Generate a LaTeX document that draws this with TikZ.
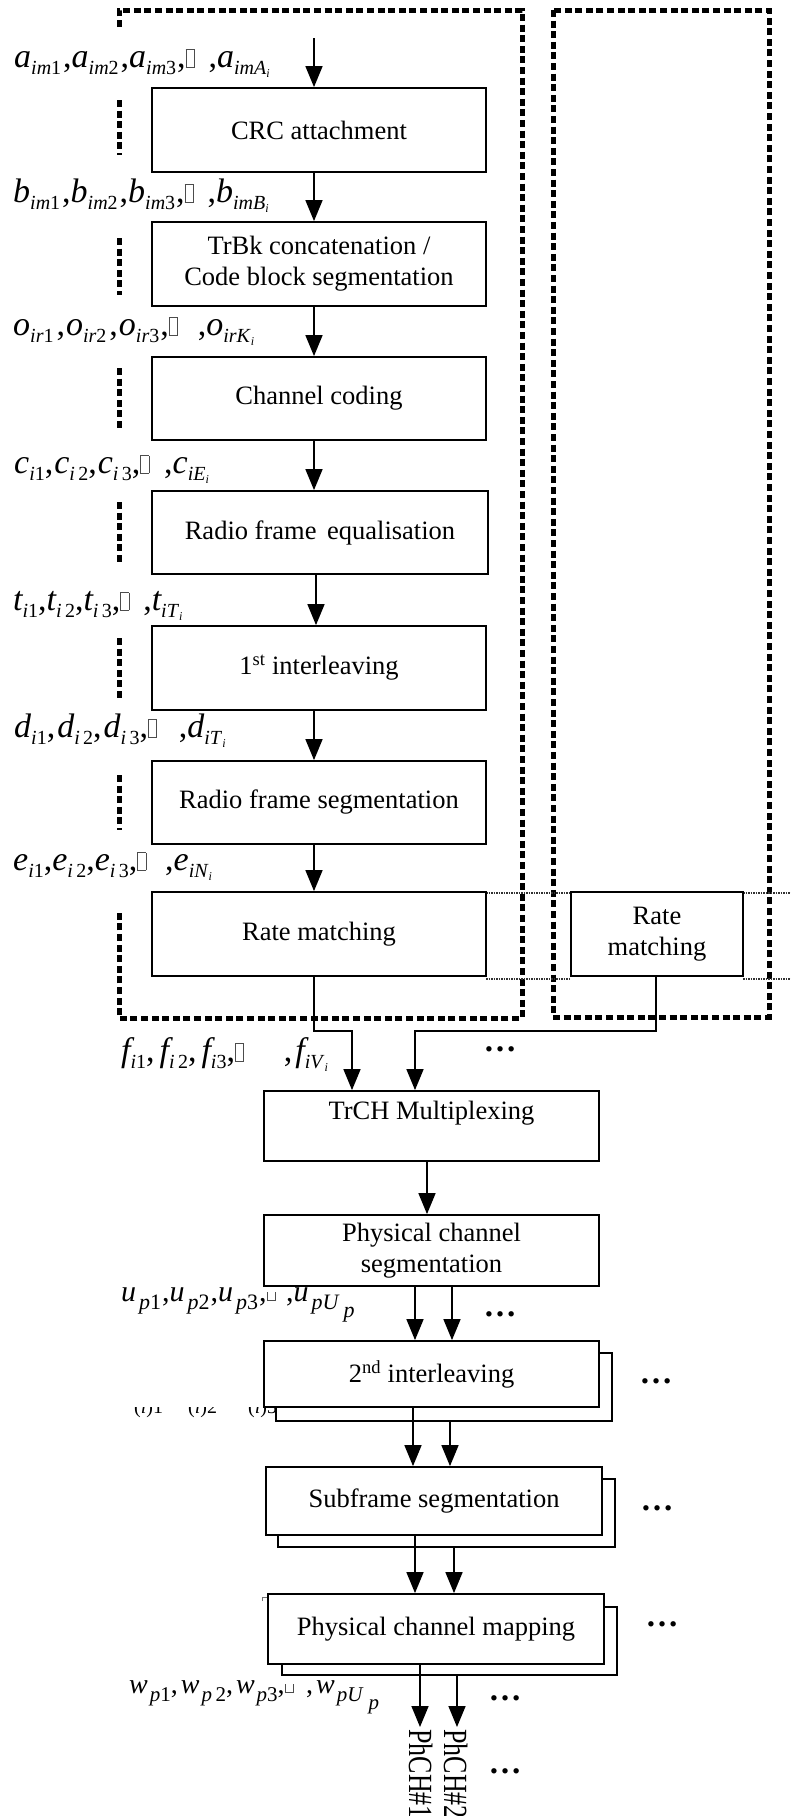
\documentclass[tikz,border=0pt]{standalone}
\usepackage{fontspec}
\setmainfont{Liberation Serif}
\usetikzlibrary{arrows.meta}
\newcommand\boxfont{\fontsize{26.5}{31}\selectfont}
\newcommand\labfont{\fontsize{34}{38}\selectfont}
\newcommand\labfontb{\fontsize{30}{34}\selectfont}
\newcommand\labfontc{\fontsize{28}{32}\selectfont}
\newcommand\V[2]{{\itshape #1}\raisebox{-7pt}{\fontsize{20}{20}\selectfont #2}}
\newcommand\W[2]{{\itshape #1}\kern3pt\raisebox{-8pt}{\fontsize{22}{22}\selectfont #2}}
\newcommand\Wb[2]{{\itshape #1}\kern2pt\raisebox{-8pt}{\fontsize{21}{21}\selectfont #2}}
\newcommand\I[1]{\textit{#1}}
\newcommand\subsub[1]{\raisebox{-3pt}{\fontsize{12}{12}\selectfont\itshape #1}}
\newcommand\nbx{{\color{black!70}\setlength\fboxsep{0pt}\setlength\fboxrule{0.7pt}\fbox{\rule{0pt}{17pt}\hspace{7.5pt}}}}
\newcommand\nbxo{{\color{black!70}\rule{0.7pt}{9pt}\rule{8pt}{0.7pt}\rule{0.7pt}{9pt}}}
\begin{document}
\begin{tikzpicture}[x=1pt,y=-1pt,
  box/.style={draw, line width=1.8pt, fill=white, inner sep=0pt, align=center, font=\boxfont},
  arr/.style={line width=1.6pt, -{Triangle[length=21pt,width=17pt]}},
  bigdot/.style={line width=5pt, dash pattern=on 7pt off 3.6pt},
  thindot/.style={line width=2pt, dash pattern=on 1.5pt off 1pt, black!80},
  lab/.style={anchor=base west, inner sep=0pt, font=\labfont},
  labb/.style={anchor=base west, inner sep=0pt, font=\labfontb},
  labc/.style={anchor=base west, inner sep=0pt, font=\labfontc},
  dts/.style={anchor=base, inner sep=0pt, font=\fontsize{33}{33}\selectfont\bfseries},
  phch/.style={anchor=base west, inner sep=0pt, rotate=-90, font=\fontsize{26}{26}\selectfont},
]
\useasboundingbox (0,0) rectangle (791,1816);

% thick dotted frames
\draw[bigdot] (119,27) -- (119,10) -- (522,10) -- (522,1018) -- (119,1018) -- (119,912);
\foreach \a/\b in {100/155, 238/295, 368/428, 502/565, 638/700, 775/830}
  \draw[bigdot] (119,\a) -- (119,\b);
\draw[bigdot] (553,10) rectangle (769,1017);

% thin dotted lines
\draw[thindot] (486,893) -- (571,893);
\draw[thindot] (743,893) -- (791,893);
\draw[thindot] (486,979) -- (571,979);
\draw[thindot] (743,979) -- (791,979);

% hidden label fragments
\begin{scope}
\clip (130,1407.5) rectangle (276,1418);
\node[anchor=base west, inner sep=0pt, font=\fontsize{20}{20}\selectfont] (fr1) at (134,1413) {(\I{i})1};
\node[anchor=base west, inner sep=0pt, font=\fontsize{20}{20}\selectfont] (fr2) at (188,1413) {(\I{i})2};
\node[anchor=base west, inner sep=0pt, font=\fontsize{20}{20}\selectfont] (fr3) at (248,1413) {(\I{i})3};
\end{scope}
\draw[black!55, line width=0.7pt] (262,1601) -- (262,1597) -- (271,1597) -- (271,1601);

% blocks of the transport channel chain
\node[box, minimum width=334pt, minimum height=84pt] (crc) at (319,130) {CRC attachment};
\node[box, minimum width=334pt, minimum height=84pt] (trbk) at (319,264) {TrBk concatenation /\\Code block segmentation};
\node[box, minimum width=334pt, minimum height=83pt] (cc) at (319,398.5) {Channel coding};
\node[box, minimum width=336pt, minimum height=83pt] (rfe) at (320,532.5) {Radio frame\hspace{4pt} equalisation};
\node[box, minimum width=334pt, minimum height=84pt] (fi) at (319,668) {1\textsuperscript{st} interleaving};
\node[box, minimum width=334pt, minimum height=83pt] (rfs) at (319,802.5) {Radio frame segmentation};
\node[box, minimum width=334pt, minimum height=84pt] (rm) at (319,934) {Rate matching};
\node[box, minimum width=172pt, minimum height=84pt] (rm2) at (657,934) {Rate\\matching};

\node[box, minimum width=335pt, minimum height=70pt] (mux) at (431.5,1126) {};
\node[inner sep=0pt, font=\boxfont] (muxt) at ([yshift=13pt]mux.center) {TrCH Multiplexing};
\node[box, minimum width=335pt, minimum height=71pt] (pcs) at (431.5,1250.5) {Physical channel\\segmentation};

\node[box, minimum width=336pt, minimum height=68pt] (int2s) at (444,1387) {};
\node[box, minimum width=335pt, minimum height=66pt] (int2) at (431.5,1374) {2\textsuperscript{nd} interleaving};
\node[box, minimum width=337pt, minimum height=68pt] (sss) at (446.5,1513) {};
\node[box, minimum width=336pt, minimum height=68pt] (ss) at (434,1501) {Subframe segmentation};
\node[box, minimum width=335pt, minimum height=68pt] (pcms) at (449.5,1641) {};
\node[box, minimum width=336pt, minimum height=70pt] (pcm) at (436,1629) {Physical channel mapping};

% arrows
\coordinate (in) at (314,38);
\draw[arr] (in) -- ([xshift=-5pt]crc.north);
\draw[arr] ([xshift=-5pt]crc.south) -- ([xshift=-5pt]trbk.north);
\draw[arr] ([xshift=-5pt]trbk.south) -- ([xshift=-5pt]cc.north);
\draw[arr] ([xshift=-5pt]cc.south) -- ([xshift=-5pt]cc.south |- rfe.north);
\draw[arr] ([xshift=-4pt]rfe.south) -- ([xshift=-4pt]rfe.south |- fi.north);
\draw[arr] ([xshift=-5pt]fi.south) -- ([xshift=-5pt]rfs.north);
\draw[arr] ([xshift=-5pt]rfs.south) -- ([xshift=-5pt]rm.north);
\draw[arr] ([xshift=-5pt]rm.south) -- ++(0,54) -| ([xshift=-79.5pt]mux.north);
\draw[arr] ([xshift=-1pt]rm2.south) -- ++(0,54) -| ([xshift=-16.5pt]mux.north);
\draw[arr] ([xshift=-4.5pt]mux.south) -- ([xshift=-4.5pt]pcs.north);
\draw[arr] ([xshift=-16.5pt]pcs.south) -- ([xshift=-16.5pt]pcs.south |- int2.north);
\draw[arr] ([xshift=20.5pt]pcs.south) -- ([xshift=20.5pt]pcs.south |- int2.north);
\draw[arr] ([xshift=-18.5pt]int2.south) -- ([xshift=-18.5pt]int2.south |- ss.north);
\draw[arr] ([xshift=6pt]int2s.south) -- ([xshift=6pt]int2s.south |- ss.north);
\draw[arr] ([xshift=-19pt]ss.south) -- ([xshift=-19pt]ss.south |- pcm.north);
\draw[arr] ([xshift=7.5pt]sss.south) -- ([xshift=7.5pt]sss.south |- pcm.north);
\coordinate (o1) at (420,1727);
\coordinate (o2) at (457,1727);
\draw[arr] (pcm.south -| o1) -- (o1);
\draw[arr] (pcms.south -| o2) -- (o2);

% output labels
\node[phch] (ph1) at (409,1729) {\scalebox{1}[1.3]{PhCH\#1}};
\node[phch] (ph2) at (444,1729) {\scalebox{1}[1.3]{PhCH\#2}};

% bit sequence labels
\node[lab] (la) at (14,67) {\V{a}{\I{im}1}\kern2pt,\V{a}{\I{im}2}\kern2pt,\V{a}{\I{im}3}\kern1pt,\nbx\hspace{14pt},\V{a}{\I{imA}\subsub{i}}};
\node[lab] (lb) at (13,202) {\V{b}{\I{im}1}\kern2pt,\V{b}{\I{im}2}\kern2pt,\V{b}{\I{im}3}\kern1pt,\nbx\hspace{14pt},\V{b}{\I{imB}\subsub{i}}};
\node[lab] (lo) at (13,335) {\V{o}{\I{ir}1}\kern3pt,\kern1pt\V{o}{\I{ir}2}\kern3pt,\kern1pt\V{o}{\I{ir}3}\kern1pt,\nbx\hspace{20pt},\V{o}{\I{irK}\subsub{i}}};
\node[lab] (lc) at (14,473) {\V{c}{\I{i}1},\kern1pt\V{c}{\I{i}\,2},\kern1pt\V{c}{\I{i}\,3},\nbx\hspace{15pt},\V{c}{\I{iE}\subsub{i}}};
\node[lab] (lt) at (13,610) {\V{t}{\I{i}1},\V{t}{\I{i}\,2},\V{t}{\I{i}\,3},\nbx\hspace{14pt},\V{t}{\I{iT}\subsub{i}}};
\node[lab] (ld) at (14,737) {\V{d}{\I{i}1},\kern2pt\V{d}{\I{i}\,2},\kern2pt\V{d}{\I{i}\,3},\nbx\hspace{22pt},\V{d}{\I{iT}\subsub{i}}};
\node[lab] (le) at (13,870) {\V{e}{\I{i}1},\V{e}{\I{i}\,2},\V{e}{\I{i}\,3},\nbx\hspace{19pt},\V{e}{\I{iN}\subsub{i}}};
\node[lab] (lf) at (121,1061) {\V{f}{\I{i}1},\kern5pt\V{f}{\I{i}\,2},\kern5pt\V{f}{\I{i}3},\nbx\hspace{40pt},\kern3pt\V{f}{\I{iV}\subsub{i}}};
\node[labb] (lu) at (121,1301) {\W{u}{\I{p}1}\kern1pt,\W{u}{\I{p}2}\kern1pt,\W{u}{\I{p}3}\kern1pt,\nbxo\hspace{10pt},\W{u}{\I{pU}\raisebox{-8pt}{\kern4pt\I{p}}}};
\node[labc] (lw) at (129,1693) {\Wb{w}{\I{p}1},\kern3pt\Wb{w}{\I{p}\,2},\kern3pt\Wb{w}{\I{p}3},\nbxo\hspace{12pt},\kern3pt\Wb{w}{\I{pU}\raisebox{-8pt}{\kern5pt\I{p}}}};

% ellipses
\node[dts] (d1) at (500,1051) {…};
\node[dts] (d2) at (500,1316) {…};
\node[dts] (d3) at (656,1383) {…};
\node[dts] (d4) at (657,1510) {…};
\node[dts] (d5) at (662,1626) {…};
\node[dts] (d6) at (505,1700) {…};
\node[dts] (d7) at (505,1773) {…};
\end{tikzpicture}
\end{document}
